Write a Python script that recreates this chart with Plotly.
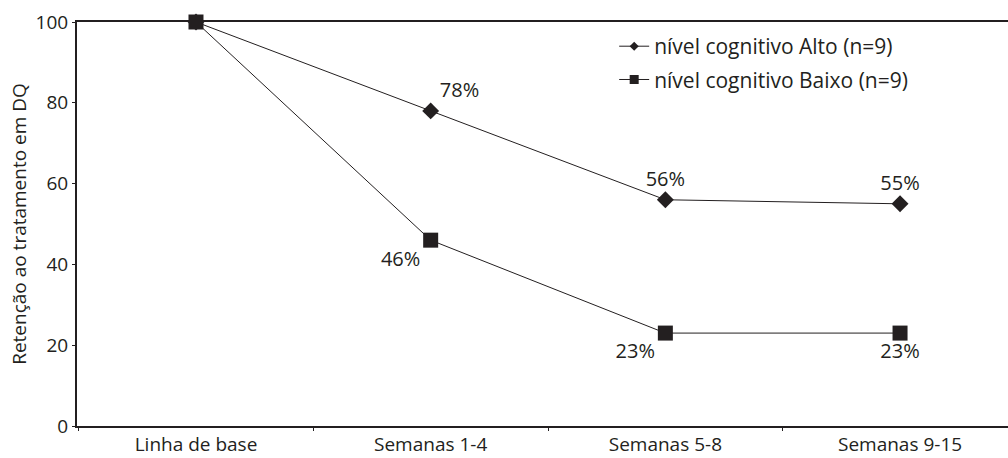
import plotly.graph_objects as go

categories = ["Linha de base", "Semanas 1-4", "Semanas 5-8", "Semanas 9-15"]
alto = [100, 78, 56, 55]
baixo = [100, 46, 23, 23]
alto_name = "nível cognitivo Alto (n=9)"
baixo_name = "nível cognitivo Baixo (n=9)"
y_ticks = [0, 20, 40, 60, 80, 100]

ink = "#231f20"
font_family = "Open Sans, Lato, sans-serif"

fig = go.Figure()
fig.add_trace(go.Scatter(
    x=categories, y=alto, name=alto_name, mode="lines+markers+text",
    line=dict(color=ink, width=1),
    marker=dict(symbol="diamond", size=13, color=ink),
    text=["" if i == 0 else f"{v}%" for i, v in enumerate(alto)],
    textposition=["top center", "top right", "top center", "top center"],
    textfont=dict(size=20, color=ink),
    cliponaxis=False, showlegend=False,
))
fig.add_trace(go.Scatter(
    x=categories, y=baixo, name=baixo_name, mode="lines+markers+text",
    line=dict(color=ink, width=1),
    marker=dict(symbol="square", size=15, color=ink),
    text=["" if i == 0 else f"{v}%" for i, v in enumerate(baixo)],
    textposition=["bottom center", "bottom left", "bottom left", "bottom center"],
    textfont=dict(size=20, color=ink),
    cliponaxis=False, showlegend=False,
))
# legend entries (smaller symbols, as in the reference legend)
fig.add_trace(go.Scatter(
    x=[None], y=[None], name=alto_name, mode="lines+markers",
    line=dict(color=ink, width=1),
    marker=dict(symbol="diamond", size=7, color=ink),
    legendgroup="a",
))
fig.add_trace(go.Scatter(
    x=[None], y=[None], name=baixo_name, mode="lines+markers",
    line=dict(color=ink, width=1),
    marker=dict(symbol="square", size=9, color=ink),
    legendgroup="b",
))

fig.update_layout(
    width=1008, height=458,
    margin=dict(l=77, r=0, t=22, b=32),
    paper_bgcolor="white", plot_bgcolor="white",
    font=dict(family=font_family, size=20, color=ink),
    showlegend=True,
    legend=dict(x=0.577, y=0.99, xanchor="left", yanchor="top",
                bgcolor="rgba(0,0,0,0)", font=dict(size=21, color=ink),
                itemwidth=30, tracegroupgap=3, traceorder="grouped"),
)
fig.update_xaxes(
    type="category", range=[-0.507, 3.46],
    showline=True, linecolor=ink, linewidth=1.5, mirror=True,
    ticks="outside", ticklen=3, tickcolor=ink, tickson="boundaries",
    showgrid=False, zeroline=False, automargin=False,
    tickfont=dict(size=19, color=ink),
)
fig.update_yaxes(
    range=[0, 100], tickvals=y_ticks,
    showline=True, linecolor=ink, linewidth=2,
    ticks="outside", ticklen=3, tickcolor=ink,
    showgrid=False, zeroline=False, automargin=False,
    tickfont=dict(size=19, color=ink),
    title=dict(text="Retenção ao tratamento em DQ", font=dict(size=19, color=ink), standoff=4),
)

fig.write_html(
    "out.html",
    config={"displayModeBar": False},
    post_script="document.body.style.margin='0';document.body.style.overflow='hidden';",
)
